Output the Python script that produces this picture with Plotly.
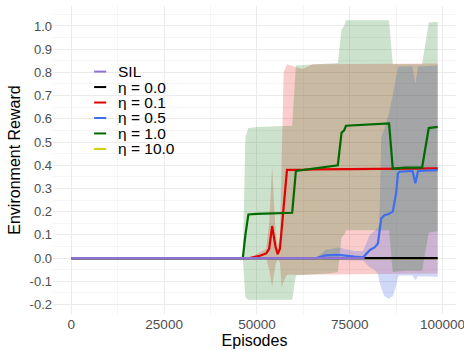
import plotly.graph_objects as go

# ---------------- data ----------------
names = ["SIL", "η = 0.0", "η = 0.1", "η = 0.5", "η = 1.0", "η = 10.0"]

sil_x = [0, 79000]
sil_mean = [0.0, 0.0]
sil_lower = [0.0, 0.0]
sil_upper = [0.0, 0.0]

eta00_x = [0, 98700]
eta00_mean = [0.0, 0.0]
eta00_lower = [0.0, 0.0]
eta00_upper = [0.0, 0.0]

eta01_x = [0, 48000, 50800, 52500, 53300, 54100, 55000, 55600, 56200, 56700, 57200, 58100,
           62300, 65000, 75000, 90000, 98700]
eta01_mean = [0.0, 0.0, 0.01, 0.02, 0.04, 0.138, 0.05, 0.017, 0.04, 0.13, 0.24, 0.38,
              0.38, 0.382, 0.383, 0.385, 0.386]
eta01_lower = [0.0, 0.0, -0.005, 0.0, -0.05, -0.125, -0.03, -0.005, -0.02, -0.13, -0.10, -0.072,
               -0.072, -0.072, -0.07, -0.068, -0.066]
eta01_upper = [0.0, 0.0, 0.025, 0.04, 0.15, 0.40, 0.12, 0.05, 0.09, 0.40, 0.80, 0.835,
               0.815, 0.835, 0.835, 0.836, 0.838]

eta05_x = [0, 66000, 68500, 72000, 76300, 78600, 80400, 81700, 82600, 83000, 83500, 84400, 85500,
           86600, 87500, 88000, 88400, 91900, 92700, 93400, 98700]
eta05_mean = [0.0, 0.0, 0.012, 0.014, 0.006, 0.003, 0.034, 0.046, 0.063, 0.12, 0.171, 0.185, 0.19,
              0.20, 0.28, 0.365, 0.372, 0.375, 0.322, 0.375, 0.379]
eta05_lower = [0.0, 0.0, -0.008, -0.008, -0.01, -0.01, -0.04, -0.05, -0.07, -0.10, -0.13, -0.165, -0.175,
               -0.165, -0.12, -0.08, -0.075, -0.075, -0.095, -0.078, -0.08]
eta05_upper = [0.0, 0.0, 0.035, 0.045, 0.03, 0.03, 0.10, 0.12, 0.13, 0.15, 0.52, 0.56, 0.62,
               0.70, 0.78, 0.82, 0.825, 0.825, 0.75, 0.825, 0.83]

eta10_x = [0, 46200, 46900, 47700, 50000, 55000, 59500, 60500, 65000, 70000, 71800, 72800, 73500,
           74000, 80000, 85600, 86600, 90000, 94500, 96300, 98700]
eta10_mean = [0.0, 0.0, 0.10, 0.188, 0.19, 0.192, 0.195, 0.375, 0.385, 0.395, 0.40, 0.54, 0.55,
              0.57, 0.575, 0.58, 0.385, 0.39, 0.39, 0.56, 0.565]
eta10_lower = [0.0, 0.0, -0.17, -0.18, -0.18, -0.18, -0.18, -0.075, -0.07, -0.065, -0.06, 0.09, 0.10,
               0.12, 0.12, 0.12, -0.06, -0.055, -0.055, 0.11, 0.115]
eta10_upper = [0.0, 0.0, 0.52, 0.56, 0.565, 0.568, 0.57, 0.83, 0.835, 0.84, 0.84, 0.985, 1.0,
               1.025, 1.025, 1.025, 0.835, 0.835, 0.835, 1.015, 1.018]

eta100_x = [0, 98700]
eta100_mean = [0.0, 0.0]
eta100_lower = [0.0, 0.0]
eta100_upper = [0.0, 0.0]

x_tickvals = [0, 25000, 50000, 75000, 100000]
x_ticktext = ["0", "25000", "50000", "75000", "100000"]
y_tickvals = [-0.2, -0.1, 0.0, 0.1, 0.2, 0.3, 0.4, 0.5, 0.6, 0.7, 0.8, 0.9, 1.0]
y_ticktext = ["-0.2", "-0.1", "0.0", "0.1", "0.2", "0.3", "0.4", "0.5", "0.6", "0.7", "0.8", "0.9", "1.0"]

# ---------------- styles ----------------
line_colors = {
    "SIL": "#8F72D6",
    "η = 0.0": "#000000",
    "η = 0.1": "#E00000",
    "η = 0.5": "#3F6EEE",
    "η = 1.0": "#006A00",
    "η = 10.0": "#D2CE00",
}
fill_colors = {
    "SIL": "rgba(143,114,214,0.25)",
    "η = 0.0": "rgba(0,0,0,0.25)",
    "η = 0.1": "rgba(235,0,0,0.2)",
    "η = 0.5": "rgba(65,105,225,0.25)",
    "η = 1.0": "rgba(0,110,0,0.2)",
    "η = 10.0": "rgba(210,206,0,0.25)",
}

series = {
    "SIL": (sil_x, sil_mean, sil_lower, sil_upper),
    "η = 0.0": (eta00_x, eta00_mean, eta00_lower, eta00_upper),
    "η = 0.1": (eta01_x, eta01_mean, eta01_lower, eta01_upper),
    "η = 0.5": (eta05_x, eta05_mean, eta05_lower, eta05_upper),
    "η = 1.0": (eta10_x, eta10_mean, eta10_lower, eta10_upper),
    "η = 10.0": (eta100_x, eta100_mean, eta100_lower, eta100_upper),
}

fig = go.Figure()

ribbon_order = ["SIL", "η = 0.0", "η = 0.1", "η = 0.5", "η = 1.0", "η = 10.0"]
for nm in ribbon_order:
    x, m, lo, up = series[nm]
    fig.add_trace(go.Scatter(
        x=list(x) + list(x[::-1]), y=list(up) + list(lo[::-1]),
        fill="toself", fillcolor=fill_colors[nm], mode="lines",
        line=dict(width=0, color=fill_colors[nm]), hoverinfo="skip", showlegend=False))

line_order = ["η = 10.0", "η = 0.0", "η = 0.1", "η = 1.0", "η = 0.5", "SIL"]
for nm in line_order:
    x, m, lo, up = series[nm]
    fig.add_trace(go.Scatter(x=x, y=m, mode="lines", name=nm,
                             line=dict(color=line_colors[nm], width=2.2), showlegend=False))

# legend drawn as keys + labels (inside panel, like the reference)
leg_x0, leg_x1, leg_tx = 0.102, 0.132, 0.158
leg_y0, leg_dy = 0.787, 0.0502
for i, nm in enumerate(names):
    yy = leg_y0 - i * leg_dy
    fig.add_shape(type="line", xref="paper", yref="paper", x0=leg_x0, x1=leg_x1, y0=yy, y1=yy,
                  line=dict(color=line_colors[nm], width=2))
    fig.add_annotation(xref="paper", yref="paper", x=leg_tx, y=yy, text=nm, showarrow=False,
                       xanchor="left", yanchor="middle", height=15, borderpad=0,
                       font=dict(size=15.5, color="black"))

font_family = "Liberation Sans, Arial, Helvetica, sans-serif"
grid_major = "#EBEBEB"
grid_minor = "#F5F5F5"

fig.update_layout(
    width=464, height=350,
    margin=dict(l=53, r=7.5, t=6, b=36),
    paper_bgcolor="white", plot_bgcolor="white",
    showlegend=False,
    font=dict(family=font_family),
)
fig.update_xaxes(
    range=[-4935, 103635], tickvals=x_tickvals, ticktext=x_ticktext,
    showgrid=True, gridcolor=grid_major, gridwidth=1,
    minor=dict(tickvals=[12500, 37500, 62500, 87500], showgrid=True, gridcolor=grid_minor, gridwidth=1),
    zeroline=False, showline=False, ticks="",
    tickfont=dict(size=13.5, color="#4D4D4D"),
    ticklabeloverflow="allow",
    title=dict(text="Episodes", font=dict(size=16, color="black"), standoff=4),
    automargin=False,
)
fig.update_yaxes(
    range=[-0.241, 1.086], tickvals=y_tickvals, ticktext=y_ticktext,
    showgrid=True, gridcolor=grid_major, gridwidth=1,
    minor=dict(tickvals=[-0.15, -0.05, 0.05, 0.15, 0.25, 0.35, 0.45, 0.55, 0.65, 0.75, 0.85, 0.95, 1.05],
               showgrid=True, gridcolor=grid_minor, gridwidth=1),
    zeroline=False, showline=False, ticks="",
    tickfont=dict(size=13, color="#4D4D4D"),
    title=dict(text="Environment Reward", font=dict(size=16, color="black"), standoff=4),
    automargin=False,
)

fig.write_html("out.html")
